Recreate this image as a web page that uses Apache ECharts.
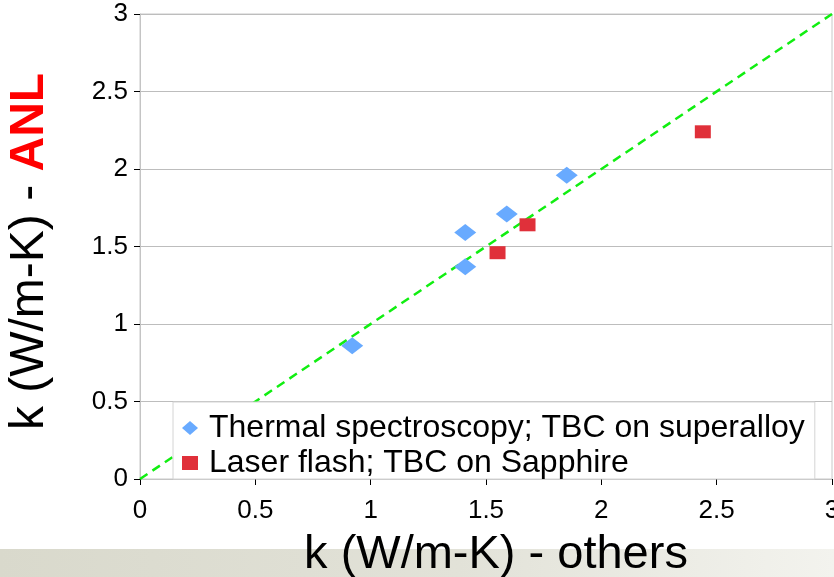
<!DOCTYPE html>
<html>
<head>
<meta charset="utf-8">
<script src="https://cdn.jsdelivr.net/npm/echarts@6/dist/echarts.min.js"></script>
<style>
html,body{margin:0;padding:0;background:#fff;}
#chart{width:834px;height:577px;}
</style>
</head>
<body>
<div id="chart"></div>
<script>
// Data
const seriesNames = ['Thermal spectroscopy; TBC on superalloy', 'Laser flash; TBC on Sapphire'];
const thermalX = [0.92, 1.41, 1.41, 1.59, 1.85];
const thermalY = [0.86, 1.37, 1.59, 1.71, 1.96];
const laserX = [1.55, 1.68, 2.44];
const laserY = [1.46, 1.64, 2.24];
const refLineX = [0, 3];
const refLineY = [0, 3];
const xTitle = 'k (W/m-K) - others';
const yTitleA = 'k (W/m-K) - ';
const yTitleB = 'ANL';

const FONT = 'Liberation Sans';
const zip = (xs, ys) => xs.map((x, i) => [x, ys[i]]);

const chart = echarts.init(document.getElementById('chart'), null, {renderer: 'canvas'});
chart.setOption({
  animation: false,
  backgroundColor: '#ffffff',
  textStyle: {fontFamily: FONT},
  graphic: [{
    type: 'rect', z: -10, silent: true,
    shape: {x: 0, y: 549, width: 834, height: 28},
    style: {
      fill: new echarts.graphic.LinearGradient(0, 0, 1, 0, [
        {offset: 0, color: '#d9d9cc'},
        {offset: 0.55, color: '#e2e2d8'},
        {offset: 1, color: '#f3f3ee'}
      ])
    }
  }],
  grid: {left: 140, right: 2, top: 14, bottom: 98, outerBoundsMode: 'none', containLabel: false,
         show: true, borderColor: '#c8c8c8', borderWidth: 1, backgroundColor: 'transparent'},
  xAxis: {
    type: 'value', min: 0, max: 3, interval: 0.5,
    axisLine: {show: true, onZero: false, lineStyle: {color: '#c4c4c4', width: 1}},
    axisTick: {show: true, length: 6, inside: false, lineStyle: {color: '#000'}},
    splitLine: {show: false},
    axisLabel: {fontFamily: FONT, fontSize: 26, color: '#000', margin: 19, showMaxLabel: true, hideOverlap: false},
    name: xTitle, nameLocation: 'middle', nameGap: 53,
    nameTextStyle: {fontFamily: FONT, fontSize: 47, color: '#000', padding: [0, 0, 0, 20]}
  },
  yAxis: {
    type: 'value', min: 0, max: 3, interval: 0.5,
    axisLine: {show: true, onZero: false, lineStyle: {color: '#c4c4c4', width: 1}},
    axisTick: {show: true, length: 6, inside: false, lineStyle: {color: '#000'}},
    splitLine: {show: true, lineStyle: {color: '#bdbdbd', width: 1}},
    axisLabel: {fontFamily: FONT, fontSize: 26, color: '#000', margin: 12},
    name: '{a|' + yTitleA + '}{b|' + yTitleB + '}', nameLocation: 'middle', nameGap: 86,
    nameTextStyle: {
      fontFamily: FONT, fontSize: 48, color: '#000', padding: [0, 10, 0, 0],
      rich: {
        a: {fontFamily: FONT, fontSize: 48, color: '#000'},
        b: {fontFamily: FONT, fontSize: 48, color: '#ff0000', fontWeight: 'bold'}
      }
    }
  },
  legend: {
    orient: 'vertical', left: 173, top: 402,
    padding: [10, 10, 0, 9], itemWidth: 16, itemHeight: 14, itemGap: 3,
    backgroundColor: '#ffffff', borderColor: '#d4d4d4', borderWidth: 1, borderRadius: 0,
    textStyle: {fontFamily: FONT, fontSize: 32, color: '#000', padding: [0, 0, 0, 6]},
    data: [{name: seriesNames[0], icon: 'diamond'}, {name: seriesNames[1], icon: 'rect'}]
  },
  series: [
    {
      type: 'line', name: 'ref', data: zip(refLineX, refLineY), symbol: 'none',
      lineStyle: {color: '#11ee11', width: 2.5, type: [9, 6]}, silent: true, z: 1
    },
    {
      type: 'scatter', name: seriesNames[0], data: zip(thermalX, thermalY),
      symbol: 'diamond', symbolSize: [22, 17], itemStyle: {color: '#68aaff', opacity: 1}, z: 3
    },
    {
      type: 'scatter', name: seriesNames[1], data: zip(laserX, laserY),
      symbol: 'rect', symbolSize: [16, 13], itemStyle: {color: '#e0303a', opacity: 1}, z: 3
    }
  ]
});
</script>
</body>
</html>
